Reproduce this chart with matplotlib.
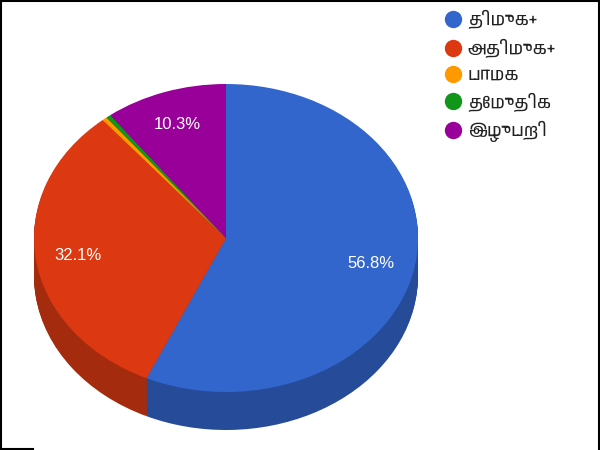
import matplotlib
matplotlib.use("Agg")
import matplotlib.pyplot as plt
from matplotlib.lines import Line2D
from matplotlib import font_manager

names = ["திமுக+", "அதிமுக+", "பாமக", "தேமுதிக", "இழுபறி"]
shares = [56.8, 32.1, 0.4, 0.4, 10.3]
colors = ["#3366cc", "#dc3912", "#ff9900", "#109618", "#990099"]
side_colors = ["#264c99", "#a52b0e", "#bf7300", "#0c7112", "#730073"]
shown_labels = ["56.8%", "32.1%", "", "", "10.3%"]

W, H = 600, 450
cx, cy = 226, 238      # pixel centre of the pie top
rx, ry = 192, 154
depth = 38

tamil = [f.name for f in font_manager.fontManager.ttflist if "Tamil" in f.name]
plt.rcParams["font.family"] = tamil[:1] + ["Noto Sans", "Liberation Sans", "DejaVu Sans"]

fig = plt.figure(figsize=(6, 4.5), dpi=100, facecolor="white")
ax = fig.add_axes([0, 0, 1, 1])

# side wall: same pie stacked downward, one pixel per layer
for d in range(depth, 0, -1):
    ax.pie(shares, colors=side_colors, startangle=90, counterclock=False,
           center=(0, -d / ry), radius=1, wedgeprops={"linewidth": 0})
ax.pie(shares, colors=colors, startangle=90, counterclock=False,
       center=(0, 0), radius=1, wedgeprops={"linewidth": 0})

ax.set_aspect("auto")
ax.set_xlim(-cx / rx, (W - cx) / rx)
ax.set_ylim(-(H - cy) / ry, cy / ry)
ax.axis("off")

label_px = [(371, 263.5), (78, 255.5), None, None, (177, 124.5)]
for s, p in zip(shown_labels, label_px):
    if p:
        fig.text(p[0] / W, 1 - p[1] / H, s, color="white", fontsize=12,
                 family="Liberation Sans", ha="center", va="center")

handles = [Line2D([], [], ls="", marker="o", ms=12.5, mfc=c, mec="none") for c in colors]
fig.legend(handles, names, loc="upper left", bbox_to_anchor=(0.71, 1.015), frameon=False,
           fontsize=12.5, labelspacing=0.56, handlelength=1.2, handletextpad=0.26,
           borderpad=0.45, labelcolor="#222222")

# black frame of the screenshot
for xs, ys in [((0, 1), (0.998, 0.998)), ((0.002, 0.002), (0, 1)),
               ((0.998, 0.998), (0, 1)), ((0, 0.055), (0.002, 0.002))]:
    fig.add_artist(Line2D(xs, ys, color="black", lw=1.5))

fig.savefig("out.png", dpi=100)
